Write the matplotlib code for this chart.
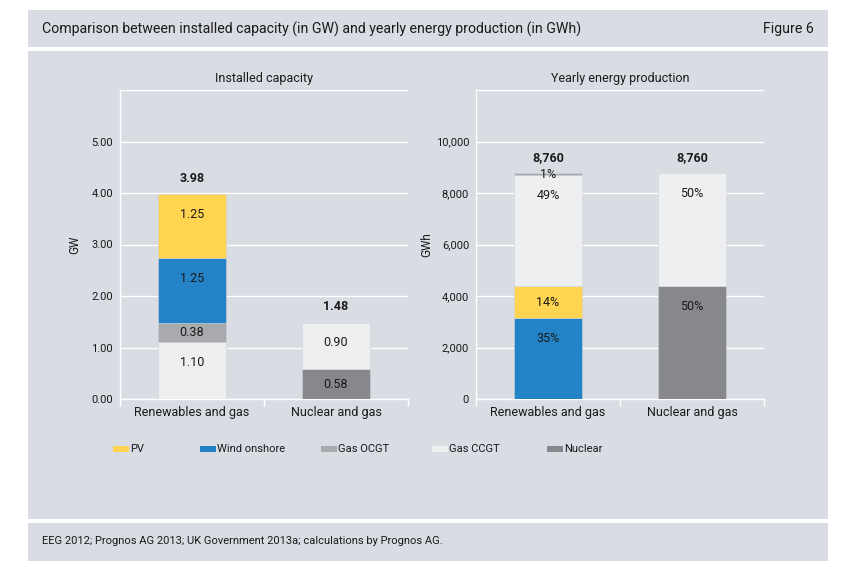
import numpy as np
import matplotlib.pyplot as plt
from matplotlib.patches import Rectangle

plt.rcParams['font.family'] = ['Roboto', 'DejaVu Sans']

# ---- data ----
categories = ['Renewables and gas', 'Nuclear and gas']
series = ['Gas CCGT', 'Gas OCGT', 'Wind onshore', 'PV', 'Nuclear']

# installed capacity in GW (stack order bottom -> top)
cap_renew = {'Gas CCGT': 1.10, 'Gas OCGT': 0.38, 'Wind onshore': 1.25, 'PV': 1.25}
cap_nuc = {'Nuclear': 0.58, 'Gas CCGT': 0.90}
cap_totals = ['3.98', '1.48']

# yearly energy production in GWh (stack order bottom -> top)
prod_renew = {'Wind onshore': 3140, 'PV': 1240, 'Gas CCGT': 4300, 'Gas OCGT': 80}
prod_renew_pct = ['35%', '14%', '49%', '1%']
prod_nuc = {'Nuclear': 4380, 'Gas CCGT': 4380}
prod_nuc_pct = ['50%', '50%']
prod_totals = ['8,760', '8,760']

legend_order = ['PV', 'Wind onshore', 'Gas OCGT', 'Gas CCGT', 'Nuclear']

colors = {
    'PV': '#fed451',
    'Wind onshore': '#2383c6',
    'Gas OCGT': '#a9aaad',
    'Gas CCGT': '#eeeff1',
    'Nuclear': '#86888c',
}
panel = '#d9dce3'

W, H = 842, 578
fig = plt.figure(figsize=(W / 100, H / 100), dpi=100)
fig.patch.set_facecolor('white')


def box(x0, y0, x1, y1, color, z=-10):
    fig.patches.append(Rectangle((x0 / W, 1 - y1 / H), (x1 - x0) / W, (y1 - y0) / H,
                                 transform=fig.transFigure, facecolor=color,
                                 edgecolor='none', zorder=z))


# background panels
box(28, 10, 828, 47, panel)
box(28, 51, 828, 519, panel)
box(28, 523, 828, 561, panel)

fig.text(42 / W, 1 - 29 / H, 'Comparison between installed capacity (in GW) and yearly energy production (in GWh)',
         fontsize=10.2, va='center', ha='left', color='#1a1a1a')
fig.text(814 / W, 1 - 29 / H, 'Figure 6', fontsize=10.2, va='center', ha='right', color='#1a1a1a')
fig.text(42 / W, 1 - 541 / H, 'EEG 2012; Prognos AG 2013; UK Government 2013a; calculations by Prognos AG.',
         fontsize=8, va='center', ha='left', color='#1a1a1a')


def stacked(ax, stacks, labels_list, totals, off_px, ylim, major, fmt, title, ylabel, label_x):
    ax.set_facecolor('none')
    ppu = (399 - 90) / ylim  # pixels per data unit
    off = off_px / ppu
    for i, (stack, labels) in enumerate(zip(stacks, labels_list)):
        bottom = 0
        for (name, val), lab in zip(stack.items(), labels):
            ax.bar(i, val, bottom=bottom, width=0.47, color=colors[name], zorder=3,
                   edgecolor='#d0d2d6', linewidth=0.4)
            top = bottom + val
            # labels sit near the top of a segment, or centred if it is thin
            y = max(top - off, bottom + val / 2)
            ax.text(i, y, lab, ha='center', va='center', fontsize=9, color='#1a1a1a', zorder=4)
            bottom = top
        ax.text(i, bottom + 16 / ppu, totals[i], ha='center', va='center', fontsize=9,
                fontweight='bold', color='#1a1a1a', zorder=4)
    ax.set_xlim(-0.5, 1.5)
    ax.set_ylim(0, ylim)
    ticks = np.arange(0, ylim + major / 2, major)
    ax.set_yticks(ticks)
    ax.set_yticklabels([fmt(t) for t in ticks[:-1]] + [''])
    ax.grid(axis='y', color='white', linewidth=1, zorder=1)
    ax.tick_params(axis='y', length=0, labelsize=8, pad=5, labelcolor='#1a1a1a')
    ax.set_xticks([0, 1])
    ax.set_xticklabels(categories, fontsize=9, color='#1a1a1a')
    ax.set_xticks([-0.5, 0.5, 1.5], minor=True)
    ax.tick_params(axis='x', which='major', length=0, pad=5)
    ax.tick_params(axis='x', which='minor', length=5, color='white', width=1)
    for s in ['top', 'right']:
        ax.spines[s].set_visible(False)
    for s in ['left', 'bottom']:
        ax.spines[s].set_color('white')
        ax.spines[s].set_linewidth(1)
    ax.set_title(title, fontsize=9, color='#1a1a1a', pad=6)
    ax.set_ylabel(ylabel, fontsize=8.5, color='#1a1a1a')
    ax.yaxis.set_label_coords(label_x, 0.5)


ax1 = fig.add_axes([120 / W, 1 - 399 / H, 288 / W, 309 / H])
stacked(ax1, [cap_renew, cap_nuc],
        [[f'{v:.2f}' for v in cap_renew.values()], [f'{v:.2f}' for v in cap_nuc.values()]],
        cap_totals, 20, 6, 1, lambda t: f'{t:.2f}', 'Installed capacity', 'GW', -0.134)

ax2 = fig.add_axes([476 / W, 1 - 399 / H, 288 / W, 309 / H])
stacked(ax2, [prod_renew, prod_nuc], [prod_renew_pct, prod_nuc_pct],
        prod_totals, 20, 12000, 2000, lambda t: f'{int(t):,}', 'Yearly energy production', 'GWh', -0.149)

# legend
leg_x = [113, 200, 321, 432, 547]
for x, name in zip(leg_x, legend_order):
    box(x, 446, x + 16, 452, colors[name], z=1)
    fig.text((x + 17) / W, 1 - 449 / H, name, fontsize=8, va='center', ha='left', color='#1a1a1a')

fig.savefig('out.png', dpi=100, facecolor='white')
